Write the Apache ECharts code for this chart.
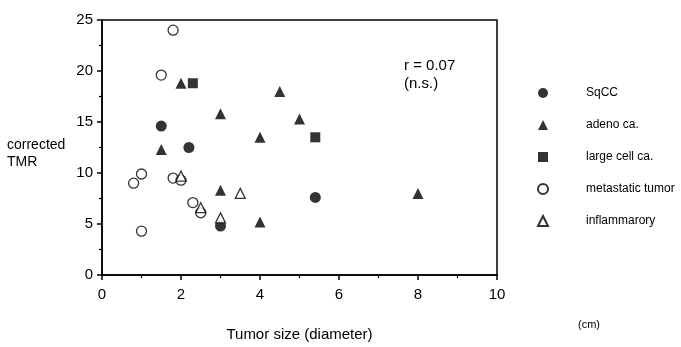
<!DOCTYPE html>
<html>
<head>
<meta charset="utf-8">
<script src="https://cdn.jsdelivr.net/npm/echarts@6/dist/echarts.min.js"></script>
<style>
  html, body { margin: 0; padding: 0; background: #fff; }
  #chart { width: 681px; height: 347px; }
</style>
</head>
<body>
<div id="chart"></div>
<script>
// points as [tumor size (cm), corrected TMR]
const sqcc = [[1.5, 14.6], [2.2, 12.5], [3.0, 4.8], [5.4, 7.6]];
const adeno = [[1.5, 12.3], [2.0, 18.8], [3.0, 15.8], [3.0, 8.3], [4.0, 13.5], [4.0, 5.2], [4.5, 18.0], [5.0, 15.3], [8.0, 8.0]];
const largeCell = [[2.3, 18.8], [5.4, 13.5]];
const metastatic = [[0.8, 9.0], [1.0, 9.9], [1.0, 4.3], [1.5, 19.6], [1.8, 24.0], [1.8, 9.5], [2.0, 9.3], [2.3, 7.1], [2.5, 6.1]];
const inflammatory = [[2.0, 9.7], [2.5, 6.6], [3.0, 5.6], [3.5, 8.0]];

const seriesNames = ['SqCC', 'adeno ca.', 'large cell ca.', 'metastatic tumor', 'inflammarory'];
const xTicks = [0, 2, 4, 6, 8, 10];
const yTicks = [0, 5, 10, 15, 20, 25];

const chart = echarts.init(document.getElementById('chart'));
const font = 'Liberation Sans, Arial, sans-serif';

function series(name, data, symbol, size, filled) {
  return {
    name: name,
    type: 'scatter',
    data: data,
    symbol: symbol,
    symbolSize: size,
    itemStyle: filled
      ? { color: '#000' }
      : { color: '#fff', borderColor: '#000', borderWidth: 1.3 },
    emphasis: { disabled: true }
  };
}

const option = {
  backgroundColor: '#fff',
  animation: false,
  grid: {
    left: 102, right: 184, top: 20, bottom: 61,
    show: true, borderColor: '#000', borderWidth: 1.5, backgroundColor: 'transparent'
  },
  xAxis: {
    type: 'value',
    min: xTicks[0], max: xTicks[xTicks.length - 1], interval: 2,
    axisLine: { show: true, lineStyle: { color: '#000', width: 1.5 } },
    axisTick: { show: true, length: 5, lineStyle: { color: '#000', width: 1.5 } },
    minorTick: { show: true, splitNumber: 2, length: 3, lineStyle: { color: '#000', width: 1.2 } },
    splitLine: { show: false },
    axisLabel: { color: '#000', fontSize: 15, fontFamily: font, margin: 12 },
    name: 'Tumor size (diameter)',
    nameLocation: 'middle',
    nameGap: 52,
    nameTextStyle: { color: '#000', fontSize: 15, fontFamily: font }
  },
  yAxis: {
    type: 'value',
    min: yTicks[0], max: yTicks[yTicks.length - 1], interval: 5,
    axisLine: { show: true, lineStyle: { color: '#000', width: 1.5 } },
    axisTick: { show: true, length: 5, lineStyle: { color: '#000', width: 1.5 } },
    minorTick: { show: true, splitNumber: 2, length: 3, lineStyle: { color: '#000', width: 1.2 } },
    splitLine: { show: false },
    axisLabel: { color: '#000', fontSize: 15, fontFamily: font, margin: 9 }
  },
  legend: {
    orient: 'vertical',
    left: 532,
    top: 82,
    itemGap: 20,
    itemWidth: 10,
    itemHeight: 10,
    data: seriesNames,
    selectedMode: false,
    textStyle: { color: '#000', fontSize: 12, fontFamily: font, padding: [0, 0, 0, 33] }
  },
  graphic: [
    {
      type: 'text', left: 7, top: 137,
      style: { text: 'corrected\nTMR', fill: '#000', fontSize: 14, fontFamily: font, lineHeight: 17 }
    },
    {
      type: 'text', left: 404, top: 57,
      style: { text: 'r = 0.07\n(n.s.)', fill: '#000', fontSize: 15, fontFamily: font, lineHeight: 18 }
    },
    {
      type: 'text', left: 578, top: 319,
      style: { text: '(cm)', fill: '#000', fontSize: 11, fontFamily: font }
    }
  ],
  series: [
    series(seriesNames[0], sqcc, 'circle', 11, true),
    series(seriesNames[1], adeno, 'triangle', 11, true),
    series(seriesNames[2], largeCell, 'rect', 10, true),
    series(seriesNames[3], metastatic, 'circle', 10, false),
    series(seriesNames[4], inflammatory, 'triangle', 10, false)
  ]
};

chart.setOption(option);
</script>
</body>
</html>
